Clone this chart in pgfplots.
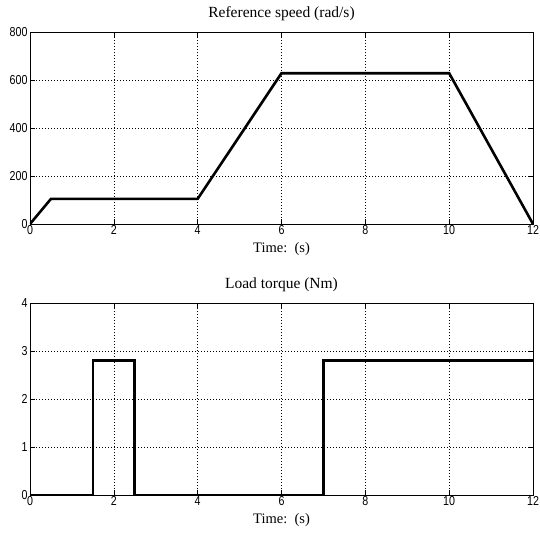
\documentclass[border=0pt]{standalone}
\usepackage{fontspec}
\setmainfont{Liberation Serif}
\newfontfamily\tickfont[FakeStretch=0.82]{Liberation Sans}
\usepackage{pgfplots}
\pgfplotsset{compat=1.18}

\pgfplotsset{
  matlab/.style={
    width=503pt, height=192pt, scale only axis,
    xmin=0, xmax=12, xtick={0,2,...,12},
    grid=major,
    grid style={black, line width=0.5pt, dash pattern=on 1pt off 2pt},
    axis line style={black, line width=0.8pt},
    tick style={black, line width=0.6pt},
    tick align=inside, major tick length=5pt,
    ticklabel style={font=\tickfont\fontsize{13}{13}\selectfont},
    /pgf/number format/assume math mode=true,
    xticklabel style={yshift=2pt},
    yticklabel style={xshift=1pt},
    title style={font=\fontsize{15.5}{15.5}\selectfont, yshift=2pt},
    xlabel style={font=\fontsize{14.5}{14.5}\selectfont, yshift=-1pt},
    xlabel={Time:\ \ (s)},
  }
}

\begin{document}
\begin{tikzpicture}
\useasboundingbox (-30pt,-321pt) rectangle (509pt,224pt);
\begin{axis}[matlab, name=top,
  ymin=0, ymax=800, ytick={0,200,...,800},
  title={Reference speed (rad/s)}]
  \addplot[black, line width=2.6pt] coordinates {
    (0,0) (0.5,104.7) (4,104.7) (6,628.3) (10,628.3) (12,0)
  };
\end{axis}
\begin{axis}[matlab, at={(0,-271pt)},
  ymin=0, ymax=4, ytick={0,1,...,4},
  title={Load torque (Nm)}]
  \addplot[black, line width=2.6pt] coordinates {
    (0,0) (1.5,0) (1.5,2.8) (2.5,2.8) (2.5,0) (7,0) (7,2.8) (12,2.8)
  };
\end{axis}
\end{tikzpicture}
\end{document}
